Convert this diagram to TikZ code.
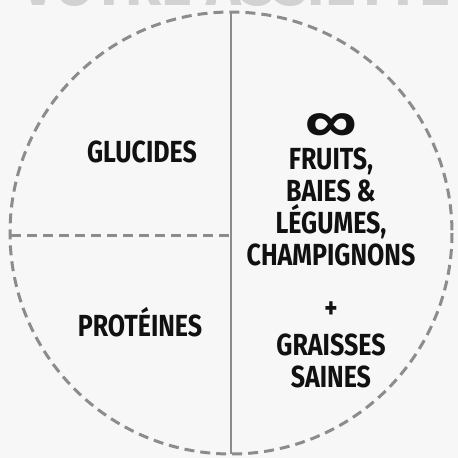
\documentclass[tikz,border=0pt]{standalone}
\usepackage{fontspec}
\setmainfont{Fira Sans}
\newfontfamily\condfont[FakeStretch=0.82]{Fira Sans Bold}
\newfontfamily\titlefont[FakeStretch=0.95]{Fira Sans Bold}
\newfontfamily\symfont[FakeStretch=1.15]{Fira Sans SemiBold}
\definecolor{bgc}{HTML}{F7F7F7}
\definecolor{linec}{HTML}{8C8C8C}
\definecolor{titlec}{HTML}{D2D2D2}
\definecolor{txtc}{HTML}{111111}
\begin{document}
\begin{tikzpicture}[x=1pt,y=-1pt,
  lbl/.style={font=\condfont\fontsize{30.5}{32}\selectfont, text=txtc, align=center, inner sep=0pt},
  dashline/.style={draw=linec, line width=3pt, dash pattern=on 10pt off 6pt},
  solidline/.style={draw=linec, line width=2.4pt}]
\useasboundingbox (0,0) rectangle (458,458);
\fill[bgc] (0,0) rectangle (458,458);
\clip (0,0) rectangle (458,458);
\node[font=\titlefont\fontsize{62}{62}\selectfont, text=titlec, anchor=base, inner sep=0pt] (title) at (236,5) {VOTRE ASSIETTE};
\coordinate (c) at (231,233);
\draw[dashline] (c) circle (221);
\coordinate (top) at (231,12);
\coordinate (bot) at (231,454);
\coordinate (left) at (11,235);
\coordinate (mid) at (231,235);
\draw[solidline] (top) -- (bot);
\draw[dashline] (left) -- (mid);
\node[lbl] (glu) at (142,152) {GLUCIDES};
\node[lbl] (pro) at (140,322) {PROTÉINES};
\node[font=\symfont\fontsize{50}{50}\selectfont, text=txtc, inner sep=0pt, text depth=0pt, text height=0.6em, anchor=base] (inf) at (331,140.5) {∞};
\node[lbl, anchor=north] (fruits) at (331,148) {FRUITS,\\BAIES \&\\LÉGUMES,\\CHAMPIGNONS};
\node[lbl] (plus) at (331,310) {+};
\node[lbl, anchor=north] (gr) at (331,334) {GRAISSES\\SAINES};
\end{tikzpicture}
\end{document}
